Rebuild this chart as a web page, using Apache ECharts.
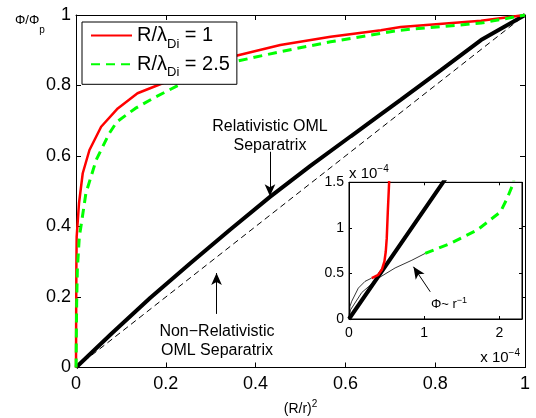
<!DOCTYPE html>
<html>
<head>
<meta charset="utf-8">
<script src="https://cdn.jsdelivr.net/npm/echarts@6/dist/echarts.min.js"></script>
<style>
  html, body { margin: 0; padding: 0; background: #fff; }
  #chart { width: 536px; height: 418px; }
</style>
</head>
<body>
<div id="chart"></div>
<script>
// Normalised probe potential Phi/Phi_p against (R/r)^2, with a zoomed inset near the origin.

// Relativistic OML separatrix (thick black)
const relSep = [[0, 0], [1.25e-4, 1.5e-4], [0.08, 0.097], [0.165, 0.197], [0.254, 0.295],
  [0.343, 0.391], [0.432, 0.484], [0.522, 0.572], [0.612, 0.656], [0.668, 0.708],
  [0.723, 0.759], [0.812, 0.843], [0.902, 0.929], [1, 1]];
// Non-relativistic OML separatrix (thin dashed black)
const nonRelSep = [[0, 0], [1, 1]];
// R/lambda_Di = 1 (red)
const phiR1 = [[0.302e-4, 0.449e-4], [0.39e-4, 0.485e-4], [0.436e-4, 0.54e-4], [0.471e-4, 0.632e-4],
  [0.489e-4, 0.741e-4], [0.502e-4, 0.887e-4], [0.516e-4, 1.18e-4], [0.533e-4, 1.49e-4],
  [0.0001, 0.03], [0.0004, 0.15], [0.0008, 0.28], [0.0015, 0.371], [0.0067, 0.466], [0.015, 0.551],
  [0.03, 0.617], [0.056, 0.683], [0.093, 0.735], [0.137, 0.778], [0.2, 0.81],
  [0.25, 0.838], [0.3, 0.862], [0.359, 0.885], [0.455, 0.915], [0.567, 0.938], [0.679, 0.957],
  [0.723, 0.966], [0.902, 0.984], [1, 1]];
// R/lambda_Di = 2.5 (green dashed)
const phiR25 = [[1.013e-4, 0.72e-4], [1.347e-4, 0.829e-4], [1.703e-4, 0.975e-4], [2.013e-4, 1.175e-4],
  [2.1e-4, 1.32e-4], [2.19e-4, 1.5e-4], [0.0003, 0.02], [0.0008, 0.1], [0.0015, 0.183], [0.003, 0.277],
  [0.0074, 0.371], [0.011, 0.4], [0.022, 0.494], [0.045, 0.589], [0.074, 0.664], [0.091, 0.697],
  [0.132, 0.735], [0.178, 0.768], [0.25, 0.815], [0.3, 0.84], [0.362, 0.87], [0.455, 0.896],
  [0.567, 0.924], [0.679, 0.948], [0.723, 0.957], [0.902, 0.977], [1, 1]];
// Phi ~ r^-1 branches (thin black, inset only)
const rInvR1 = [[0, 0], [0.013e-4, 0.139e-4], [0.036e-4, 0.194e-4], [0.124e-4, 0.339e-4],
  [0.213e-4, 0.413e-4], [0.302e-4, 0.449e-4]];
const rInvR25 = [[0, 0], [0.02e-4, 0.1e-4], [0.169e-4, 0.29e-4], [0.391e-4, 0.449e-4],
  [0.613e-4, 0.56e-4], [0.836e-4, 0.645e-4], [1.013e-4, 0.72e-4]];

// Axis ranges / tick steps
const mainX = [0, 1, 0.2];
const mainY = [0, 1, 0.2];
const insetX = [0, 2.3e-4, 1e-4];
const insetY = [0, 1.5e-4, 0.5e-4];

// Annotation anchors (data coordinates)
const relArrow = [[0.432, 0.612], [0.432, 0.486]];
const relLabel = [0.432, 0.656];
const nonRelArrow = [[0.313, 0.152], [0.313, 0.268]];
const nonRelLabel = [0.314, 0.076];
const rInvArrow = [[1.08e-4, 0.299e-4], [0.857e-4, 0.573e-4]];
const rInvLabel = [1.33e-4, 0.16e-4];

const seriesNames = ['R/λDi = 1', 'R/λDi = 2.5'];
const legendRich = {
  'R/λDi = 1': '{n|R/λ}{s|Di}{n| = 1}',
  'R/λDi = 2.5': '{n|R/λ}{s|Di}{n| = 2.5}'
};

const FONT = '"Liberation Sans", Arial, Helvetica, sans-serif';
const BLACK = '#000';
const RED = '#ff0000';
const GREEN = '#00ff00';

function axis(gridIndex, pos, range, opts) {
  return Object.assign({
    type: 'value',
    gridIndex: gridIndex,
    position: pos,
    min: range[0],
    max: range[1],
    interval: range[2],
    axisLine: { show: true, onZero: false, lineStyle: { color: BLACK, width: 1 } },
    axisTick: { show: true, inside: true, length: opts.tick, lineStyle: { color: BLACK, width: 1 } },
    axisLabel: { show: false },
    splitLine: { show: false },
    nameMoveOverlap: false,
    z: opts.z
  }, opts.extra || {});
}

const mainLabel = { show: true, color: BLACK, fontFamily: FONT, fontSize: 18, showMinLabel: true, showMaxLabel: true };
const insetFmt = v => String(+(v * 1e4).toFixed(2));
const insetLabel = { show: true, color: BLACK, fontFamily: FONT, fontSize: 14, formatter: insetFmt };
const powerRich = {
  n: { fontSize: 15, lineHeight: 20, color: BLACK, fontFamily: FONT },
  sup: { fontSize: 10, lineHeight: 10, verticalAlign: 'top', color: BLACK, fontFamily: FONT }
};

function arrowMark(from, to) {
  return {
    silent: true, symbol: ['none', 'arrow'], symbolSize: [8, 12],
    lineStyle: { color: BLACK, width: 1, type: 'solid' }, label: { show: false },
    data: [[{ coord: from }, { coord: to }]]
  };
}
function textMark(at, label) {
  return {
    silent: true, symbol: 'rect', symbolSize: 1, itemStyle: { color: 'rgba(0,0,0,0)' },
    label: Object.assign({ show: true, position: 'inside', align: 'center', verticalAlign: 'middle',
      color: BLACK, fontFamily: FONT }, label),
    data: [{ coord: at }]
  };
}

const option = {
  animation: false,
  backgroundColor: '#fff',
  textStyle: { fontFamily: FONT },
  // y-axis quantity, set MATLAB-style at the top-left corner
  title: {
    text: '{n|Φ/Φ}{s|p}',
    left: 15,
    top: 5,
    padding: 0,
    textStyle: {
      rich: {
        n: { fontSize: 13, lineHeight: 30, color: BLACK, fontFamily: FONT, fontWeight: 'normal' },
        s: { fontSize: 10, lineHeight: 10, verticalAlign: 'bottom', color: BLACK, fontFamily: FONT, fontWeight: 'normal' }
      }
    }
  },
  grid: [
    { left: 76, top: 15, right: 11, bottom: 50.5, show: false, z: 0, outerBoundsMode: 'none' },
    { left: 349, top: 182.3, right: 14, bottom: 99, show: true, backgroundColor: '#fff',
      borderColor: BLACK, borderWidth: 1, z: 5, outerBoundsMode: 'none' }
  ],
  legend: {
    data: seriesNames,
    orient: 'vertical',
    left: 82,
    top: 22,
    padding: [3.6, 7, 5, 8],
    itemGap: 3.7,
    itemWidth: 41,
    itemHeight: 14,
    backgroundColor: '#fff',
    borderColor: BLACK,
    borderWidth: 1,
    selectedMode: false,
    z: 10,
    itemStyle: { color: 'rgba(0,0,0,0)', borderWidth: 0, opacity: 0 },
    formatter: name => legendRich[name],
    textStyle: {
      color: BLACK,
      fontFamily: FONT,
      rich: {
        n: { fontSize: 20, lineHeight: 30, color: BLACK, fontFamily: FONT },
        s: { fontSize: 13, lineHeight: 13, verticalAlign: 'bottom', color: BLACK, fontFamily: FONT }
      }
    }
  },
  xAxis: [
    axis(0, 'bottom', mainX, { tick: 5, z: 1, extra: {
      axisLabel: Object.assign({ margin: 8 }, mainLabel),
      name: '{n|(R/r)}{sup|2}',
      nameLocation: 'middle',
      nameGap: 42,
      nameTextStyle: {
        verticalAlign: 'middle',
        rich: {
          n: { fontSize: 14, lineHeight: 20, color: BLACK, fontFamily: FONT },
          sup: { fontSize: 10, lineHeight: 10, verticalAlign: 'top', color: BLACK, fontFamily: FONT }
        }
      }
    } }),
    axis(0, 'top', mainX, { tick: 5, z: 1 }),
    axis(1, 'bottom', insetX, { tick: 3, z: 6, extra: {
      axisLabel: Object.assign({ margin: 7, showMaxLabel: false }, insetLabel),
      name: '{n|x 10}{sup|−4}',
      nameLocation: 'end',
      nameGap: 0,
      nameTextStyle: { align: 'right', verticalAlign: 'top', padding: [29, 2, 0, 0], rich: powerRich }
    } }),
    axis(1, 'top', insetX, { tick: 3, z: 6 })
  ],
  yAxis: [
    axis(0, 'left', mainY, { tick: 5, z: 1, extra: {
      axisLabel: Object.assign({ margin: 5 }, mainLabel)
    } }),
    axis(0, 'right', mainY, { tick: 5, z: 1 }),
    axis(1, 'left', insetY, { tick: 3, z: 6, extra: {
      axisLabel: Object.assign({ margin: 5 }, insetLabel),
      name: '{n|x 10}{sup|−4}',
      nameLocation: 'end',
      nameGap: -2,
      nameTextStyle: { align: 'left', verticalAlign: 'bottom', rich: powerRich }
    } }),
    axis(1, 'right', insetY, { tick: 3, z: 6 })
  ],
  series: [
    // main axes
    {
      type: 'line', name: 'Non-relativistic OML separatrix', xAxisIndex: 0, yAxisIndex: 0,
      data: nonRelSep, symbol: 'none', z: 2, silent: true,
      lineStyle: { color: BLACK, width: 1, type: [6, 4] },
      markLine: arrowMark(nonRelArrow[0], nonRelArrow[1]),
      markPoint: textMark(nonRelLabel, { fontSize: 16, lineHeight: 19, formatter: 'Non−Relativistic\nOML Separatrix' })
    },
    {
      type: 'line', name: 'Relativistic OML separatrix', xAxisIndex: 0, yAxisIndex: 0,
      data: relSep, symbol: 'none', z: 3, silent: true,
      lineStyle: { color: BLACK, width: 4 },
      markLine: arrowMark(relArrow[0], relArrow[1]),
      markPoint: textMark(relLabel, { fontSize: 16, lineHeight: 19, formatter: 'Relativistic OML\nSeparatrix' })
    },
    {
      type: 'line', name: seriesNames[0], xAxisIndex: 0, yAxisIndex: 0,
      data: phiR1, symbol: 'none', z: 3, silent: true,
      itemStyle: { color: RED },
      lineStyle: { color: RED, width: 2.5 }
    },
    {
      type: 'line', name: seriesNames[1], xAxisIndex: 0, yAxisIndex: 0,
      data: phiR25, symbol: 'none', z: 4, silent: true,
      itemStyle: { color: GREEN },
      lineStyle: { color: GREEN, width: 3, type: [9, 6] }
    },
    // inset axes
    {
      type: 'line', name: 'r^-1 (1)', xAxisIndex: 2, yAxisIndex: 2,
      data: rInvR1, symbol: 'none', z: 7, silent: true,
      lineStyle: { color: BLACK, width: 0.8 }
    },
    {
      type: 'line', name: 'r^-1 (2.5)', xAxisIndex: 2, yAxisIndex: 2,
      data: rInvR25, symbol: 'none', z: 7, silent: true,
      lineStyle: { color: BLACK, width: 0.8 },
      markLine: arrowMark(rInvArrow[0], rInvArrow[1]),
      markPoint: textMark(rInvLabel, {
        formatter: '{n|Φ~ r}{sup|−1}',
        rich: {
          n: { fontSize: 13, lineHeight: 16, color: BLACK, fontFamily: FONT },
          sup: { fontSize: 9, lineHeight: 9, verticalAlign: 'top', color: BLACK, fontFamily: FONT }
        }
      })
    },
    {
      type: 'line', name: 'Relativistic OML separatrix', xAxisIndex: 2, yAxisIndex: 2,
      data: relSep, symbol: 'none', z: 8, silent: true,
      lineStyle: { color: BLACK, width: 4 }
    },
    {
      type: 'line', name: seriesNames[0], xAxisIndex: 2, yAxisIndex: 2,
      data: phiR1, symbol: 'none', z: 9, silent: true,
      itemStyle: { color: RED },
      lineStyle: { color: RED, width: 2.5 }
    },
    {
      type: 'line', name: seriesNames[1], xAxisIndex: 2, yAxisIndex: 2,
      data: phiR25, symbol: 'none', z: 9, silent: true,
      itemStyle: { color: GREEN },
      lineStyle: { color: GREEN, width: 3, type: [9, 6] }
    }
  ]
};

const chart = echarts.init(document.getElementById('chart'));
chart.setOption(option);
</script>
</body>
</html>
